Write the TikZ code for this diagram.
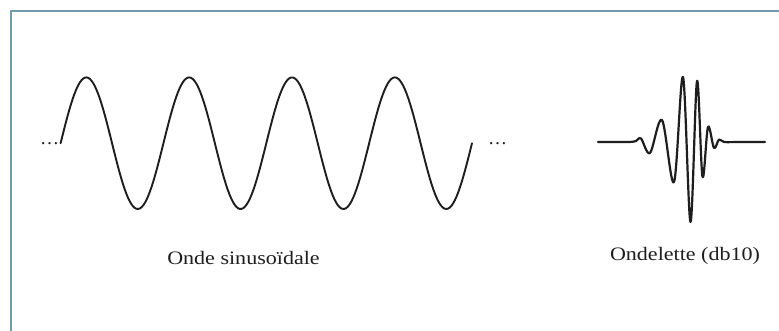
\documentclass[tikz,border=0pt]{standalone}
\usepackage{fontspec}
\setmainfont{Liberation Serif}
\usetikzlibrary{arrows.meta}
\definecolor{framecol}{HTML}{6F9CA8}
\definecolor{ink}{HTML}{1E1E1E}
\tikzset{
  every picture/.style={line join=round, line cap=round, x=1pt, y=-1pt},
  sine/.style={line width=1.9pt, ink},
  wavelet/.style={line width=2.2pt, ink},
  wavename/.style={font=\fontsize{19}{21}\selectfont, text=ink, inner sep=0pt, anchor=base},
  dots/.style={font=\fontsize{19}{21}\selectfont, text=ink, inner sep=0pt, anchor=base},
}

\begin{document}
\begin{tikzpicture}
\useasboundingbox (0,0) rectangle (779,331);
\fill[white] (0,0) rectangle (779,331);
\draw[framecol, line width=2pt, line cap=butt] (10.5,331)--(10.5,11.5)--(779,11.5);
\draw[sine, domain=0:411.4, samples=240, variable=\t] plot ({60.6+\t}, {143.2-65.8*sin(3.5002*\t)});
\draw[wavelet] plot[smooth, tension=0.55] coordinates {(598,142) (628,142) (636,141) (641,138.5) (650,153) (662,120) (674,182) (683,77) (690.5,222) (697,81) (702.5,177) (708,127) (714,148) (719,139.5) (724,142) (740,142) (765,142)};
\node[dots] (dotsL) at (49.5,144.5) {\ldots};
\node[dots] (dotsR) at (497.5,144.5) {\ldots};
\node[wavename] (sinename) at (243.5,264) {\scalebox{1.16}[1]{Onde sinusoïdale}};
\node[wavename] (waveletname) at (685,260) {\scalebox{1.16}[1]{Ondelette (db10)}};
\end{tikzpicture}
\end{document}
